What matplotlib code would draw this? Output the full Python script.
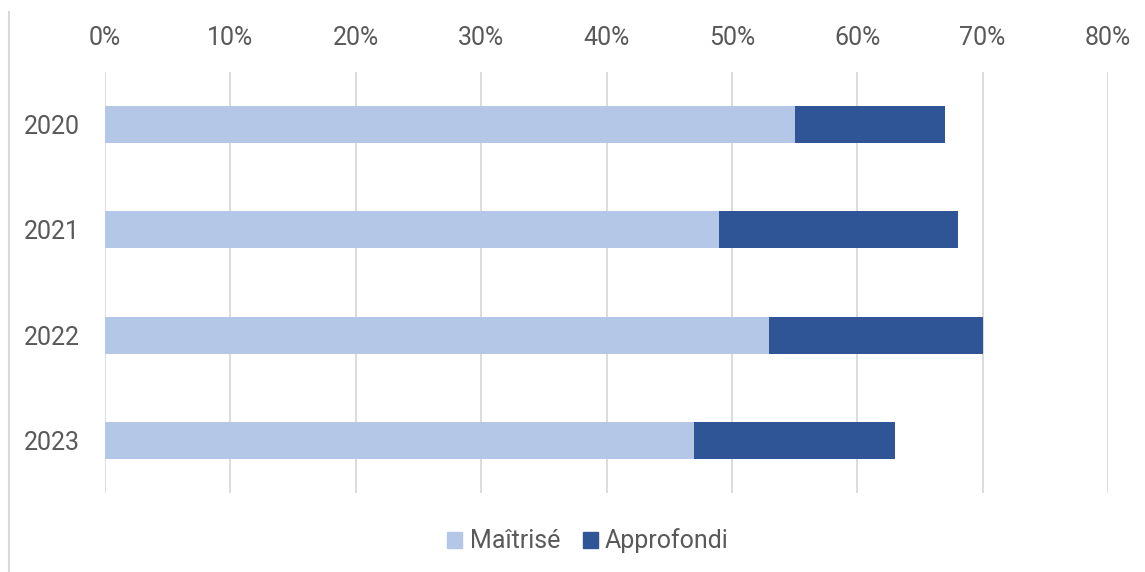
import numpy as np
import matplotlib.pyplot as plt
from matplotlib.lines import Line2D
from matplotlib.ticker import PercentFormatter

plt.rcParams['font.family'] = ['Roboto', 'DejaVu Sans']

# Données
annees      = ['2020', '2021', '2022', '2023']
maitrise    = [55, 49, 53, 47]
approfondi  = [12, 19, 17, 16]

c_clair  = '#B4C7E7'
c_fonce  = '#2F5597'
c_texte  = '#595959'
c_grille = '#D9D9D9'

fig = plt.figure(figsize=(11.45, 5.72), dpi=100)
ax = fig.add_axes([105 / 1145, 1 - 493 / 572, (1108 - 105) / 1145, (493 - 72) / 572])

y = np.arange(len(annees))
ax.barh(y, maitrise, height=0.35, color=c_clair, label='Maîtrisé', zorder=3)
ax.barh(y, approfondi, left=maitrise, height=0.35, color=c_fonce,
        label='Approfondi', zorder=3)

ax.set_xlim(0, 80)
ax.set_ylim(3.5, -0.5)
ax.set_xticks(np.arange(0, 81, 10))
ax.xaxis.set_major_formatter(PercentFormatter(decimals=0))
ax.set_yticks(y)
ax.set_yticklabels(annees)

ax.xaxis.tick_top()
ax.tick_params(axis='x', length=0, pad=16, labelsize=18, colors=c_texte)
ax.tick_params(axis='y', length=0, pad=18, labelsize=18, colors=c_texte)

ax.grid(axis='x', color=c_grille, linewidth=1.3, zorder=0)
for s in ax.spines.values():
    s.set_visible(False)

# Bordure gauche
fig.add_artist(Line2D([9 / 1145, 9 / 1145], [0, 1 - 12 / 572],
                      color=c_grille, linewidth=1.5))

handles = [plt.Rectangle((0, 0), 1, 1, color=c_clair),
           plt.Rectangle((0, 0), 1, 1, color=c_fonce)]
fig.legend(handles, ['Maîtrisé', 'Approfondi'], loc='center',
           bbox_to_anchor=(588 / 1145, 1 - 541 / 572), ncol=2, frameon=False,
           fontsize=18, labelcolor=c_texte, handlelength=0.6, handleheight=0.6,
           handletextpad=0.3, columnspacing=0.9)

fig.savefig('out.png', dpi=100)
